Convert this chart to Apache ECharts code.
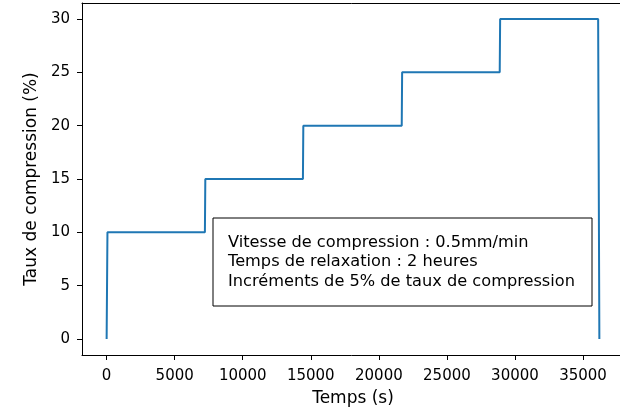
<!DOCTYPE html>
<html>
<head>
<meta charset="utf-8">
<script src="https://cdn.jsdelivr.net/npm/echarts@6/dist/echarts.min.js"></script>
<style>
  html, body { margin: 0; padding: 0; background: #fff; }
  #chart { width: 620px; height: 410px; }
</style>
</head>
<body>
<div id="chart"></div>
<script>
// compression steps: time (s) and compression rate (%)
const temps = [0, 60, 7220, 7250, 14420, 14450, 21680, 21710, 28880, 28910, 36110, 36200]
const taux = [0, 10, 10, 15, 15, 20, 20, 25, 25, 30, 30, 0]

const xTicks = [0, 5000, 10000, 15000, 20000, 25000, 30000, 35000]
const yTicks = [0, 5, 10, 15, 20, 25, 30]

const annotation = [
  'Vitesse de compression : 0.5mm/min',
  'Temps de relaxation : 2 heures',
  'Incréments de 5% de taux de compression',
]

const font = 'DejaVu Sans'

const chart = echarts.init(document.getElementById('chart'))

// matplotlib style 5% margins around the data
const xPad = (Math.max(...temps) - Math.min(...temps)) * 0.05
const yPad = (Math.max(...taux) - Math.min(...taux)) * 0.05
const xMin = Math.min(...temps) - xPad
const xMax = Math.max(...temps) + xPad
const yMin = Math.min(...taux) - yPad
const yMax = Math.max(...taux) + yPad

const spine = { show: true, onZero: false, lineStyle: { color: '#000', width: 1 } }

const option = {
  animation: false,
  grid: {
    left: 82,
    top: 3,
    width: 542,
    height: 352,
    outerBoundsMode: 'none',
  },
  xAxis: [
    {
      type: 'value',
      min: xMin,
      max: xMax,
      name: 'Temps (s)',
      nameLocation: 'middle',
      nameGap: 35,
      nameTextStyle: { fontFamily: font, fontSize: 17, color: '#000' },
      axisLine: spine,
      axisTick: { show: true, length: 5, customValues: xTicks, lineStyle: { color: '#000' } },
      axisLabel: {
        customValues: xTicks,
        formatter: (v) => String(v),
        margin: 14,
        fontFamily: font,
        fontSize: 15,
        color: '#000',
      },
      splitLine: { show: false },
    },
    {
      // top spine
      type: 'value',
      position: 'top',
      min: xMin,
      max: xMax,
      axisLine: spine,
      axisTick: { show: false },
      axisLabel: { show: false },
      splitLine: { show: false },
    },
  ],
  yAxis: [
    {
      type: 'value',
      min: yMin,
      max: yMax,
      name: 'Taux de compression (%)',
      nameLocation: 'middle',
      nameGap: 38,
      nameTextStyle: { fontFamily: font, fontSize: 17, color: '#000' },
      axisLine: spine,
      axisTick: { show: true, length: 5, customValues: yTicks, lineStyle: { color: '#000' } },
      axisLabel: {
        customValues: yTicks,
        formatter: (v) => String(v),
        margin: 12,
        fontFamily: font,
        fontSize: 15,
        color: '#000',
      },
      splitLine: { show: false },
    },
    {
      // right spine (falls just outside the canvas, as in the original)
      type: 'value',
      position: 'right',
      min: yMin,
      max: yMax,
      axisLine: spine,
      axisTick: { show: false },
      axisLabel: { show: false },
      splitLine: { show: false },
    },
  ],
  series: [
    {
      type: 'line',
      data: temps.map((t, i) => [t, taux[i]]),
      showSymbol: false,
      lineStyle: { color: '#1f77b4', width: 2 },
    },
  ],
  graphic: [
    {
      type: 'rect',
      shape: { x: 213, y: 218, width: 379, height: 88 },
      style: { fill: '#fff', stroke: '#000', lineWidth: 1 },
      z: 100,
    },
    {
      type: 'text',
      x: 228,
      y: 233,
      style: {
        text: annotation.join('\n'),
        fontFamily: font,
        fontSize: 16.2,
        lineHeight: 19.5,
        fill: '#000',
      },
      z: 101,
    },
  ],
}

chart.setOption(option)
</script>
</body>
</html>
